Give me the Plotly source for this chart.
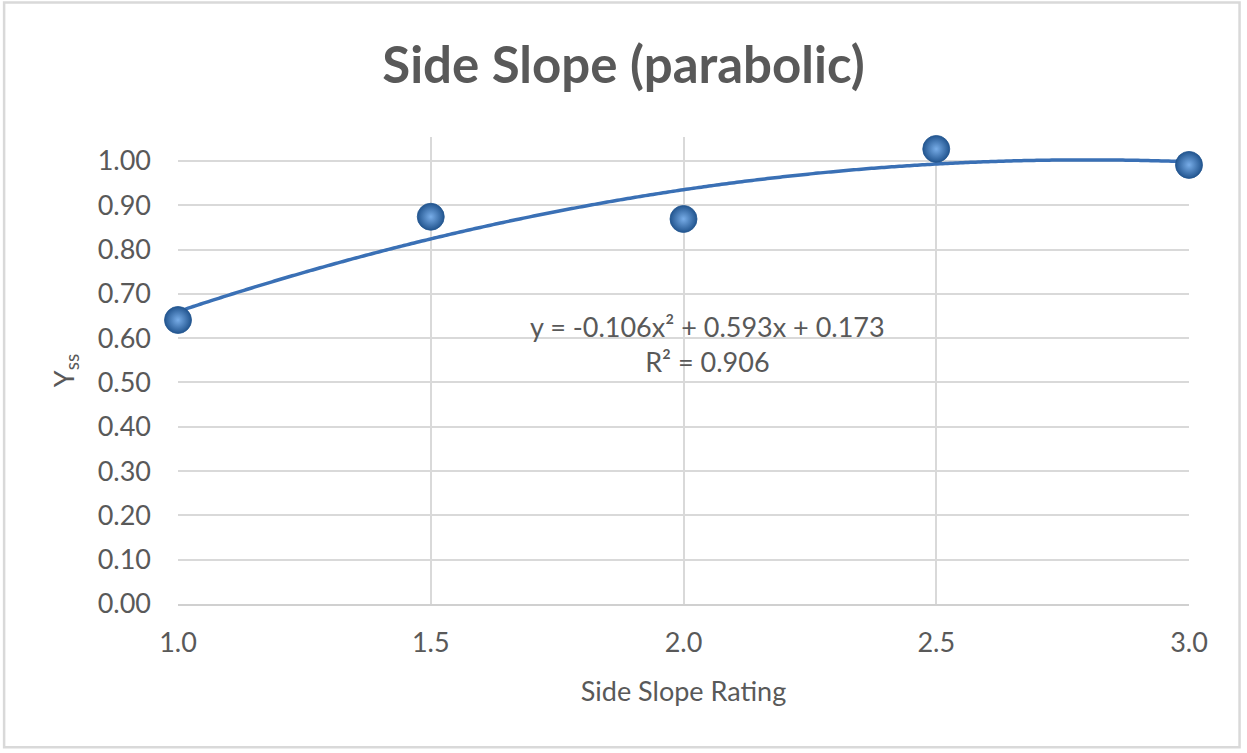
import numpy as np
import plotly.graph_objects as go

# Observed side slope data
ratings = [1.0, 1.5, 2.0, 2.5, 3.0]
yss = [0.641, 0.874, 0.869, 1.027, 0.991]

# Quadratic trendline coefficients (as reported on the chart)
coef_a, coef_b, coef_c = -0.106, 0.593, 0.173
r_squared = 0.906

y_ticks = [0.0, 0.1, 0.2, 0.3, 0.4, 0.5, 0.6, 0.7, 0.8, 0.9, 1.0]
x_ticks = [1.0, 1.5, 2.0, 2.5, 3.0]

FONT = "Lato, 'Open Sans', sans-serif"
GREY = "#595959"

xs = np.linspace(1.0, 3.0, 200)
trend = coef_a * xs ** 2 + coef_b * xs + coef_c

fig = go.Figure()
fig.add_trace(go.Scatter(
    x=xs, y=trend, mode="lines",
    line=dict(color="#3A70B5", width=3.5, shape="spline"),
    hoverinfo="skip", showlegend=False, cliponaxis=False,
))
fig.add_trace(go.Scatter(
    x=ratings, y=yss, mode="markers",
    marker=dict(size=27, color="#22558F",
                gradient=dict(type="radial", color="#78ADE8"),
                line=dict(width=0.8, color="#22558F")),
    showlegend=False, cliponaxis=False,
))

fig.add_annotation(
    x=2.048, y=0.586, xref="x", yref="y",
    text=f"y = {coef_a:.3f}x² + {coef_b:.3f}x + {coef_c:.3f}<br>R² = {r_squared:.3f}",
    showarrow=False, align="center",
    font=dict(family=FONT, size=27, color=GREY),
    xanchor="center", yanchor="middle",
)

# outer chart border
fig.add_shape(type="rect", xref="paper", yref="paper",
              x0=-0.172, x1=1.05, y0=-0.307, y1=1.288,
              line=dict(color="#D9D9D9", width=2.5), layer="below")

fig.update_layout(
    width=1247, height=753,
    margin=dict(l=178, r=58, t=137, b=149),
    paper_bgcolor="white", plot_bgcolor="white",
    title=dict(text="<b>Side Slope (parabolic)</b>", x=0.5, xanchor="center",
               y=0.914, yanchor="middle",
               font=dict(family=FONT, size=51, color=GREY)),
    xaxis=dict(range=[1.0, 3.0], tickvals=x_ticks,
               ticktext=[f"{v:.1f}" for v in x_ticks],
               showgrid=True, gridcolor="#D9D9D9", gridwidth=1.5,
               showline=True, linecolor="#D0D0D0", linewidth=2,
               zeroline=False, ticks="", ticklabelstandoff=14,
               tickfont=dict(family=FONT, size=27, color=GREY),
               title=dict(text="Side Slope Rating", standoff=25,
                          font=dict(family=FONT, size=27, color=GREY))),
    yaxis=dict(range=[0.0, 1.054], tickvals=y_ticks,
               ticktext=[f"{v:.2f}" for v in y_ticks],
               showgrid=True, gridcolor="#D9D9D9", gridwidth=1.5,
               showline=False, zeroline=False, ticks="",
               ticklabelstandoff=26,
               tickfont=dict(family=FONT, size=27, color=GREY),
               title=dict(text="Y<sub>ss</sub>", standoff=15,
                          font=dict(family=FONT, size=27, color=GREY))),
    font=dict(family=FONT, color=GREY),
)

fig.write_html("out.html")
